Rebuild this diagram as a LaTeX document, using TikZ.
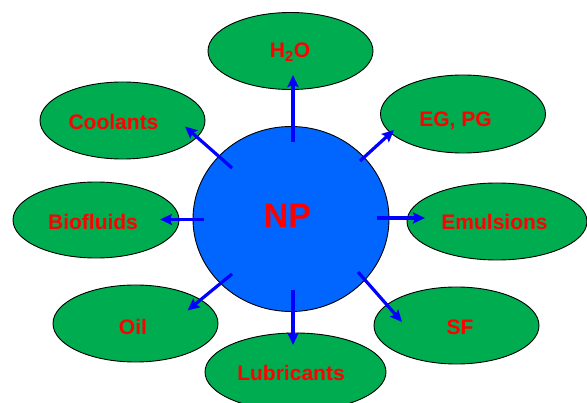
\documentclass[tikz,border=0pt]{standalone}
\usepackage{fontspec}
\setmainfont{Liberation Sans}
\usetikzlibrary{arrows.meta,shapes.geometric}
\definecolor{egreen}{RGB}{0,172,80}
\definecolor{npblue}{RGB}{0,102,255}
\definecolor{lred}{RGB}{255,0,0}
\definecolor{arblue}{RGB}{0,0,255}
\begin{document}
\begin{tikzpicture}[x=1pt,y=-1pt,
  item/.style={ellipse,draw=black,line width=0.9pt,fill=egreen,minimum width=165pt,minimum height=77pt,inner sep=0pt},
  lbl/.style={anchor=base,inner sep=0pt,text=lred,font=\bfseries\fontsize{21}{24}\selectfont},
  conn/.style={draw=arblue,line width=3.2pt,-{Stealth[length=12pt,width=11pt,inset=2pt]}}]
\useasboundingbox (0,0) rectangle (587,403);
\node[ellipse,draw=black,line width=0.9pt,fill=npblue,minimum width=196pt,minimum height=185pt,inner sep=0pt] (np) at (291,219) {};
\node[item] (h2o) at (290.5,51) {};
\node[item] (cool) at (122.5,120.5) {};
\node[item,minimum height=78pt] (egpg) at (463,114) {};
\node[item,minimum width=166pt,minimum height=76pt] (bio) at (96,220) {};
\node[item,minimum width=180pt] (emu) at (497,221.5) {};
\node[item] (oil) at (135.5,323.5) {};
\node[item,minimum width=181pt,minimum height=78pt] (lub) at (295.5,372) {};
\node[item] (sf) at (456.5,325.5) {};
\node[lbl,font=\bfseries\fontsize{34}{38}\selectfont] (npT) at (287.5,228) {NP};
\node[lbl] (h2oT) at (290,58) {H\textsubscript{2}O};
\node[lbl] (coolT) at (113.5,130) {Coolants};
\node[lbl] (egpgT) at (455.5,127) {EG, PG};
\node[lbl] (bioT) at (93,230) {Biofluids};
\node[lbl] (emuT) at (494.5,230) {Emulsions};
\node[lbl] (oilT) at (133,335) {Oil};
\node[lbl] (lubT) at (291,381) {Lubricants};
\node[lbl] (sfT) at (460,335) {SF};
\coordinate (a1) at (293,142); \coordinate (b1) at (293,75);
\coordinate (a2) at (232,168); \coordinate (b2) at (185,126.5);
\coordinate (a3) at (360,161); \coordinate (b3) at (394,130);
\coordinate (a4) at (204,219.5); \coordinate (b4) at (160,219.5);
\coordinate (a5) at (377,218); \coordinate (b5) at (425,218);
\coordinate (a6) at (232,274); \coordinate (b6) at (187.5,310.5);
\coordinate (a7) at (293,290); \coordinate (b7) at (293,345);
\coordinate (a8) at (358,272); \coordinate (b8) at (402,322);
\draw[conn] (a1) -- (b1);
\draw[conn] (a2) -- (b2);
\draw[conn] (a3) -- (b3);
\draw[conn] (a4) -- (b4);
\draw[conn] (a5) -- (b5);
\draw[conn] (a6) -- (b6);
\draw[conn] (a7) -- (b7);
\draw[conn] (a8) -- (b8);
\end{tikzpicture}
\end{document}
